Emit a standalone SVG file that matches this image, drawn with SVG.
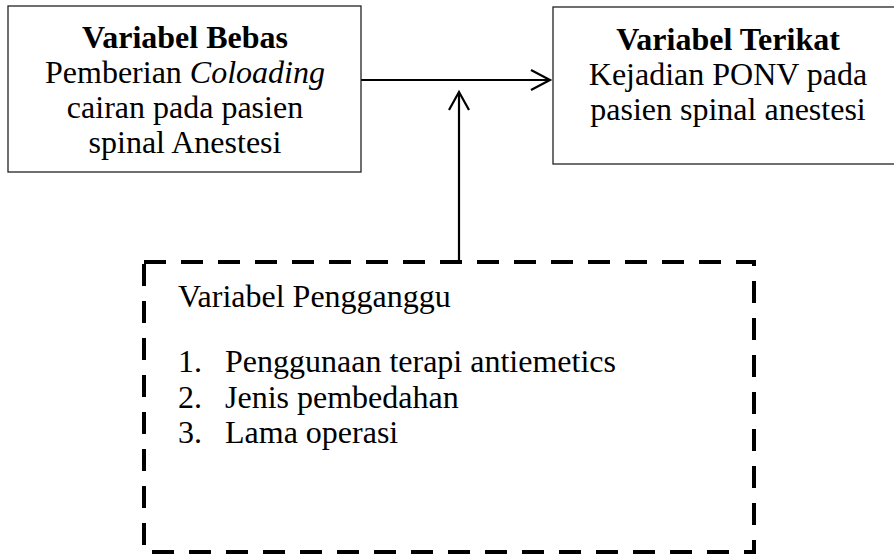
<svg xmlns="http://www.w3.org/2000/svg" width="894" height="555" viewBox="0 0 894 555">
<style>
text{font-family:"Liberation Serif","Times New Roman",serif;font-size:32px;fill:#000}
.c{text-anchor:middle}
.b{font-weight:bold}
.box{fill:#fff;stroke:#222;stroke-width:1.3}
.dash{fill:none;stroke:#000;stroke-width:4;stroke-dasharray:22 15}
.ln{fill:none;stroke:#000;stroke-width:2.2}
</style>
<rect width="894" height="555" fill="#fff"/>
<g id="connectors">
<line class="ln" x1="361" y1="80" x2="549" y2="80"/>
<polyline class="ln" points="531,70 550,80 531,90"/>
<line class="ln" x1="459" y1="262" x2="459" y2="93"/>
<polyline class="ln" points="449,110 459,92 469,110"/>
</g>
<g id="bebas">
<rect class="box" x="8" y="6" width="353" height="166"/>
<text class="c b" x="185" y="48">Variabel Bebas</text>
<text class="c" x="185" y="83">Pemberian <tspan font-style="italic">Coloading</tspan></text>
<text class="c" x="185" y="118">cairan pada pasien</text>
<text class="c" x="185" y="153">spinal Anestesi</text>
</g>
<g id="terikat">
<rect class="box" x="553" y="7" width="360" height="157"/>
<text class="c b" x="728" y="50">Variabel Terikat</text>
<text class="c" x="728" y="85">Kejadian PONV pada</text>
<text class="c" x="728" y="120">pasien spinal anestesi</text>
</g>
<g id="pengganggu">
<rect class="dash" x="144" y="262" width="610" height="290"/>
<text x="178" y="307">Variabel Pengganggu</text>
<text x="178" y="372">1.</text><text x="225" y="372">Penggunaan terapi antiemetics</text>
<text x="178" y="408">2.</text><text x="225" y="408">Jenis pembedahan</text>
<text x="178" y="443">3.</text><text x="225" y="443">Lama operasi</text>
</g>
</svg>
